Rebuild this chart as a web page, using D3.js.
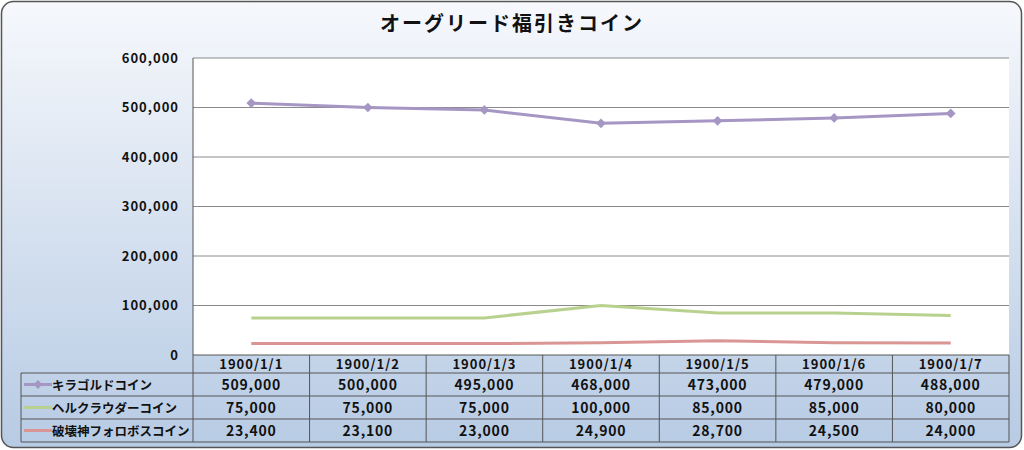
<!DOCTYPE html>
<html lang="ja">
<head>
<meta charset="UTF-8">
<title>オーグリード福引きコイン</title>
<style>
  html, body { margin: 0; padding: 0; background: #fff; }
  text { font-family: "Noto Sans CJK JP", "DejaVu Sans", sans-serif; font-weight: bold; fill: #111; }
  .grid line { stroke: #8a8a8a; stroke-width: 1; }
  .cell { stroke: #555; stroke-width: 1; fill: none; }
</style>
<script src="https://d3js.org/d3.v7.min.js"></script>
</head>
<body>
<svg width="1024" height="450"></svg>
<script>
const categories = ["1900/1/1", "1900/1/2", "1900/1/3", "1900/1/4", "1900/1/5", "1900/1/6", "1900/1/7"];
const seriesNames = ["キラゴルドコイン", "ヘルクラウダーコイン", "破壊神フォロボスコイン"];
const kiragold = [509000, 500000, 495000, 468000, 473000, 479000, 488000];
const helcloud = [75000, 75000, 75000, 100000, 85000, 85000, 80000];
const foroboss = [23400, 23100, 23000, 24900, 28700, 24500, 24000];
const yTicks = [0, 100000, 200000, 300000, 400000, 500000, 600000];

const series = [
  { name: seriesNames[0], values: kiragold, color: "#a596c4", marker: true },
  { name: seriesNames[1], values: helcloud, color: "#b9d18e", marker: false },
  { name: seriesNames[2], values: foroboss, color: "#d99694", marker: false }
];

const svg = d3.select("svg");
const plotLeft = 193, plotRight = 1009, plotTop = 58, plotBottom = 355;
const tableLeft = 21, headerBottom = 373, rowH = 23;

// background
const defs = svg.append("defs");
const grad = defs.append("linearGradient").attr("id", "bg")
  .attr("x1", 0).attr("y1", 0).attr("x2", 0).attr("y2", 1);
grad.append("stop").attr("offset", "0%").attr("stop-color", "#f6f8fc");
grad.append("stop").attr("offset", "100%").attr("stop-color", "#b7cbe4");

svg.append("rect")
  .attr("x", 1.5).attr("y", 1.5).attr("width", 1020).attr("height", 446)
  .attr("rx", 12).attr("ry", 12)
  .attr("fill", "url(#bg)").attr("stroke", "#555").attr("stroke-width", 1.5);

// title
svg.append("text")
  .attr("x", 512).attr("y", 31)
  .attr("text-anchor", "middle")
  .style("font-size", "20px")
  .style("letter-spacing", "2px")
  .text("オーグリード福引きコイン");

const x = d3.scaleBand().domain(categories).range([plotLeft, plotRight]);
const y = d3.scaleLinear().domain([0, 600000]).range([plotBottom, plotTop]);
const cx = d => x(d) + x.bandwidth() / 2;

// plot area
svg.append("rect")
  .attr("x", plotLeft).attr("y", plotTop)
  .attr("width", plotRight - plotLeft).attr("height", plotBottom - plotTop)
  .attr("fill", "#fff");

svg.append("g").attr("class", "grid")
  .selectAll("line")
  .data(yTicks.filter(t => t > 0))
  .join("line")
  .attr("x1", plotLeft).attr("x2", plotRight)
  .attr("y1", d => y(d)).attr("y2", d => y(d));

// y axis labels
const yAxis = d3.axisLeft(y).tickValues(yTicks).tickFormat(d3.format(",")).tickSize(0).tickPadding(14);
const ya = svg.append("g").attr("transform", `translate(${plotLeft},0)`).call(yAxis);
ya.select(".domain").remove();
ya.selectAll("text")
  .style("font-size", "13px")
  .style("letter-spacing", "1px")
  .style("font-family", "\"Noto Sans CJK JP\", sans-serif")
  .attr("fill", "#111");

svg.append("line")
  .attr("x1", plotLeft).attr("x2", plotLeft)
  .attr("y1", plotTop).attr("y2", headerBottom + rowH * 3)
  .attr("stroke", "#555");

// lines
const line = d3.line().x((d, i) => cx(categories[i])).y(d => y(d));
series.forEach(s => {
  svg.append("path")
    .datum(s.values)
    .attr("d", line)
    .attr("fill", "none")
    .attr("stroke", s.color)
    .attr("stroke-width", 3);
  if (s.marker) {
    svg.append("g").selectAll("path")
      .data(s.values)
      .join("path")
      .attr("d", d3.symbol(d3.symbolDiamond2, 60))
      .attr("transform", (d, i) => `translate(${cx(categories[i])},${y(d)})`)
      .attr("fill", s.color);
  }
});

// data table
const table = svg.append("g");
// header row
table.selectAll(".hdr")
  .data(categories)
  .join("text")
  .attr("x", d => cx(d))
  .attr("y", plotBottom + 14)
  .attr("text-anchor", "middle")
  .style("font-size", "13px")
  .style("letter-spacing", "1px")
  .text(d => d);

table.append("line").attr("class", "cell")
  .attr("x1", plotLeft).attr("x2", plotRight)
  .attr("y1", plotBottom).attr("y2", plotBottom);

// vertical column separators
table.selectAll(".vsep")
  .data(categories.slice(1).concat([null]))
  .join("line")
  .attr("class", "cell")
  .attr("x1", d => d === null ? plotRight : x(d))
  .attr("x2", d => d === null ? plotRight : x(d))
  .attr("y1", plotBottom).attr("y2", headerBottom + rowH * 3);

// horizontal row lines
table.selectAll(".hsep")
  .data([0, 1, 2, 3])
  .join("line")
  .attr("class", "cell")
  .attr("x1", tableLeft).attr("x2", plotRight)
  .attr("y1", d => headerBottom + d * rowH)
  .attr("y2", d => headerBottom + d * rowH);

table.append("line").attr("class", "cell")
  .attr("x1", tableLeft).attr("x2", tableLeft)
  .attr("y1", headerBottom).attr("y2", headerBottom + rowH * 3);

const fmt = d3.format(",");
series.forEach((s, r) => {
  const ym = headerBottom + r * rowH + rowH / 2;
  // legend key
  table.append("line")
    .attr("x1", tableLeft + 3).attr("x2", tableLeft + 31)
    .attr("y1", ym).attr("y2", ym)
    .attr("stroke", s.color).attr("stroke-width", 3);
  if (s.marker) {
    table.append("path")
      .attr("d", d3.symbol(d3.symbolDiamond2, 50))
      .attr("transform", `translate(${tableLeft + 17},${ym})`)
      .attr("fill", s.color);
  }
  table.append("text")
    .attr("x", tableLeft + 31).attr("y", ym + 5)
    .style("font-size", "12.5px")
    .text(s.name);
  table.selectAll(null)
    .data(s.values)
    .join("text")
    .attr("x", (d, i) => cx(categories[i]))
    .attr("y", ym + 5)
    .attr("text-anchor", "middle")
    .style("font-size", "14px")
    .style("letter-spacing", "0.8px")
    .text(d => fmt(d));
});
</script>
</body>
</html>
